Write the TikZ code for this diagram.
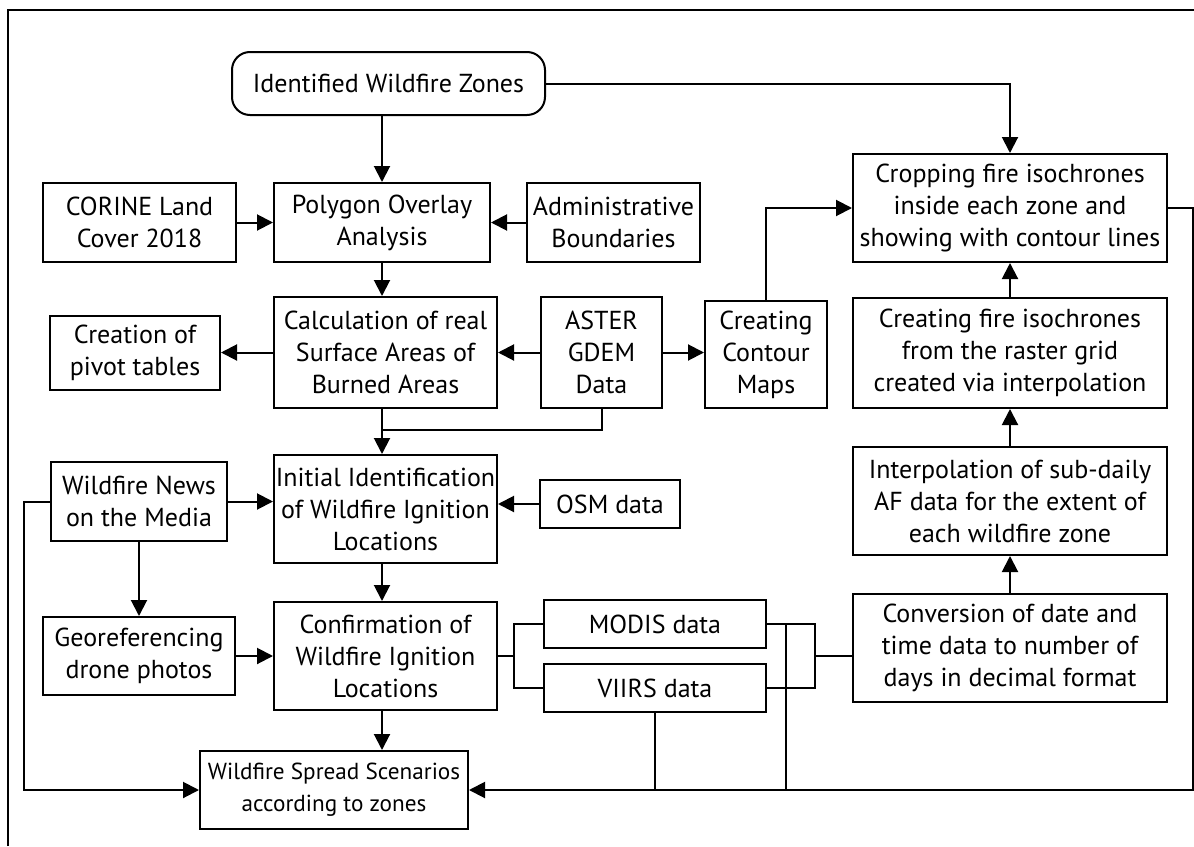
\documentclass[tikz,border=0pt]{standalone}
\usepackage{fontspec}
\setmainfont{PT Sans}
\usetikzlibrary{arrows.meta}
\tikzset{
  box/.style={draw, line width=1pt, align=center, inner sep=0pt, font=\fontsize{13}{16}\selectfont},
  arr/.style={line width=1pt, -{Triangle[length=8pt,width=8pt]}},
  ln/.style={line width=1pt}
}
\begin{document}
\begin{tikzpicture}[x=0.5pt, y=-0.5pt]
		%%%%% START %%%%%
		\useasboundingbox (0,0) rectangle (1194,846);
		\draw[line width=0.8pt] (8,846) -- (8,10) -- (1194,10);

		% left and middle column
		\node[box, rounded corners=9pt, minimum width=156.5pt, minimum height=31.5pt] (zones) at (388.5,83.5) {Identified Wildfire Zones};
		\node[box, minimum width=96.5pt, minimum height=39.5pt] (corine) at (139.5,222.5) {CORINE Land\\Cover 2018};
		\node[box, minimum width=108pt, minimum height=39.5pt] (polygon) at (382,222.5) {Polygon Overlay\\Analysis};
		\node[box, minimum width=86.5pt, minimum height=39.5pt] (admin) at (613.5,222.5) {Administrative\\Boundaries};
		\node[box, minimum width=85pt, minimum height=37pt] (pivot) at (135,353) {Creation of\\pivot tables};
		\node[box, minimum width=111.5pt, minimum height=55.5pt] (calc) at (385.5,352.5) {Calculation of real\\Surface Areas of\\Burned Areas};
		\node[box, minimum width=60.5pt, minimum height=55.5pt] (aster) at (601.5,352.5) {ASTER\\GDEM\\Data};
		\node[box, minimum width=61pt, minimum height=53.5pt] (contour) at (766,354.5) {Creating\\Contour\\Maps};
		\node[box, minimum width=88pt, minimum height=39.5pt] (news) at (139,501.5) {Wildfire News\\on the Media};
		\node[box, minimum width=111.5pt, minimum height=54pt] (initial) at (385.5,509) {Initial Identification\\of Wildfire Ignition\\Locations};
		\node[box, minimum width=70pt, minimum height=24pt] (osm) at (610,504) {OSM data};
		\node[box, minimum width=96pt, minimum height=39pt] (georef) at (139,656) {Georeferencing\\drone photos};
		\node[box, minimum width=111.5pt, minimum height=54pt] (confirm) at (385.5,656) {Confirmation of\\Wildfire Ignition\\Locations};
		\node[box, minimum width=111pt, minimum height=24pt] (modis) at (655,624) {MODIS data};
		\node[box, minimum width=111pt, minimum height=24pt] (viirs) at (655,688) {VIIRS data};
		\node[box, font=\fontsize{11.6}{16}\selectfont, minimum width=134pt, minimum height=39pt] (spread) at (334,790) {Wildfire Spread Scenarios\\according to zones};

		% right column
		\node[box, minimum width=157pt, minimum height=54pt] (cropping) at (1010,208) {Cropping fire isochrones\\inside each zone and\\showing with contour lines};
		\node[box, minimum width=157pt, minimum height=55pt] (isogrid) at (1010,353) {Creating fire isochrones\\from the raster grid\\created via interpolation};
		\node[box, minimum width=157pt, minimum height=54pt] (interp) at (1010,501) {Interpolation of sub-daily\\AF data for the extent of\\each wildfire zone};
		\node[box, minimum width=157pt, minimum height=54pt] (conversion) at (1010,648) {Conversion of date and\\time data to number of\\days in decimal format};

		\coordinate (join) at (382,430);
		\coordinate (brL) at (514,656);
		\coordinate (brR) at (815,656);
		\coordinate (tap) at (786,790);

		% connectors
		\draw[arr] (zones.south -| polygon.north) -- (polygon.north);
		\draw[arr] (zones.east) -| (cropping.north);
		\draw[arr] (corine) -- (polygon);
		\draw[arr] (admin) -- (polygon);
		\draw[arr] (polygon.south) -- (calc.north -| polygon.south);
		\draw[arr] (aster) -- (calc);
		\draw[arr] (aster.east) -- (aster.east -| contour.west);
		\draw[arr] (calc.west) -- (calc.west -| pivot.east);
		\draw[arr] (contour.north) |- (cropping.west);
		\draw[arr] (calc.south -| polygon.south) -- (initial.north -| polygon.south);
		\draw[ln] (aster.south) |- (join);
		\draw[arr] (news.east) -- (news.east -| initial.west);
		\draw[arr] (osm.west) -- (osm.west -| initial.east);
		\draw[arr] (news) -- (georef);
		\draw[arr] (georef) -- (confirm);
		\draw[arr] (initial.south -| polygon.south) -- (confirm.north -| polygon.south);
		\draw[arr] (confirm.south -| polygon.south) -- (spread.north -| polygon.south);
		\draw[arr] (news.west) -- ++(-26,0) |- (spread.west);

		\draw[ln] (confirm.east) -- (brL);
		\draw[ln] (modis.west) -| (brL) |- (viirs.west);
		\draw[ln] (modis.east) -| (brR) |- (viirs.east);
		\draw[ln] (brR) -- (brR -| conversion.west);
		\draw[ln] (modis.east -| tap) -- (tap);
		\draw[ln] (viirs.south) -- (viirs.south |- tap);
		\draw[arr] (cropping.east) -- ++(25,0) |- (spread.east);

		\draw[arr] (conversion) -- (interp);
		\draw[arr] (interp) -- (isogrid);
		\draw[arr] (isogrid) -- (cropping);
		%%%%% END %%%%%
\end{tikzpicture}
\end{document}
